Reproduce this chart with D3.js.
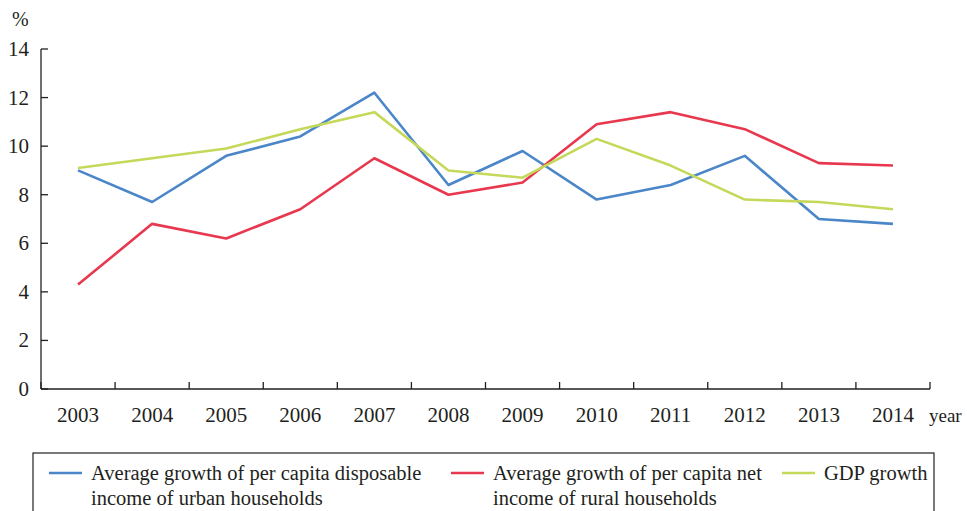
<!DOCTYPE html>
<html>
<head>
<meta charset="utf-8">
<script src="https://cdn.jsdelivr.net/npm/d3@7"></script>
<style>
  body { margin: 0; background: #fff; }
</style>
</head>
<body>
<svg id="chart" width="967" height="511"></svg>
<script>
var years = ["2003", "2004", "2005", "2006", "2007", "2008", "2009", "2010", "2011", "2012", "2013", "2014"];
var urban = [9.0, 7.7, 9.6, 10.4, 12.2, 8.4, 9.8, 7.8, 8.4, 9.6, 7.0, 6.8];
var rural = [4.3, 6.8, 6.2, 7.4, 9.5, 8.0, 8.5, 10.9, 11.4, 10.7, 9.3, 9.2];
var gdp = [9.1, 9.5, 9.9, 10.7, 11.4, 9.0, 8.7, 10.3, 9.2, 7.8, 7.7, 7.4];
var yTicks = [0, 2, 4, 6, 8, 10, 12, 14];

var series = [
  {name: ["Average growth of per capita disposable", "income of urban households"], values: urban, color: "#4a86c8", lx: 49},
  {name: ["Average growth of per capita net", "income of rural households"], values: rural, color: "#e8384f", lx: 451},
  {name: ["GDP growth"], values: gdp, color: "#c5d85a", lx: 782}
];

var serif = "'Liberation Serif', 'Times New Roman', serif",
  ink = "#231f20";

var svg = d3.select("#chart");
var mLeft = 41, mRight = 930, mTop = 49, mBottom = 389;

var x = d3.scaleBand().domain(years).range([mLeft, mRight]);
var y = d3.scaleLinear().domain([0, 14]).range([mBottom, mTop]);

function label(xp, yp, size, txt, anchor) {
  return svg.append("text")
    .attr("x", xp).attr("y", yp)
    .attr("text-anchor", anchor || "start")
    .style("font-family", serif)
    .style("font-size", size + "px")
    .style("fill", ink)
    .text(txt);
}

// y axis
svg.append("line").attr("x1", mLeft).attr("x2", mLeft).attr("y1", mTop).attr("y2", mBottom)
  .attr("stroke", ink).attr("stroke-width", 1.3);
yTicks.forEach(function(t) {
  svg.append("line")
    .attr("x1", mLeft).attr("x2", mLeft + 7)
    .attr("y1", y(t)).attr("y2", y(t))
    .attr("stroke", ink).attr("stroke-width", 1.3);
  label(mLeft - 12, y(t) + 7, 21, t, "end");
});

// x axis
svg.append("line").attr("x1", mLeft).attr("x2", mRight).attr("y1", mBottom).attr("y2", mBottom)
  .attr("stroke", ink).attr("stroke-width", 1.3);
var xTickPos = years.map(function(d) { return x(d); }).concat([mRight]);
xTickPos.forEach(function(p) {
  svg.append("line")
    .attr("x1", p).attr("x2", p)
    .attr("y1", mBottom).attr("y2", mBottom - 7)
    .attr("stroke", ink).attr("stroke-width", 1.3);
});
years.forEach(function(yr) {
  label(x(yr) + x.bandwidth() / 2, 422, 21, yr, "middle");
});

label(929, 422, 19, "year");
label(12, 26, 20, "%");

// lines
var line = d3.line()
  .x(function(d, i) { return x(years[i]) + x.bandwidth() / 2; })
  .y(function(d) { return y(d); });

series.forEach(function(s) {
  svg.append("path")
    .datum(s.values)
    .attr("fill", "none")
    .attr("stroke", s.color)
    .attr("stroke-width", 2.6)
    .attr("stroke-linejoin", "round")
    .attr("d", line);
});

// legend
svg.append("rect").attr("x", 33).attr("y", 453).attr("width", 901).attr("height", 70)
  .attr("fill", "none").attr("stroke", ink).attr("stroke-width", 1.2);

series.forEach(function(s) {
  svg.append("line")
    .attr("x1", s.lx).attr("x2", s.lx + 33).attr("y1", 473).attr("y2", 473)
    .attr("stroke", s.color).attr("stroke-width", 2.6);
  s.name.forEach(function(t, j) {
    label(s.lx + 42, 480 + j * 25, 20.5, t);
  });
});
</script>
</body>
</html>
